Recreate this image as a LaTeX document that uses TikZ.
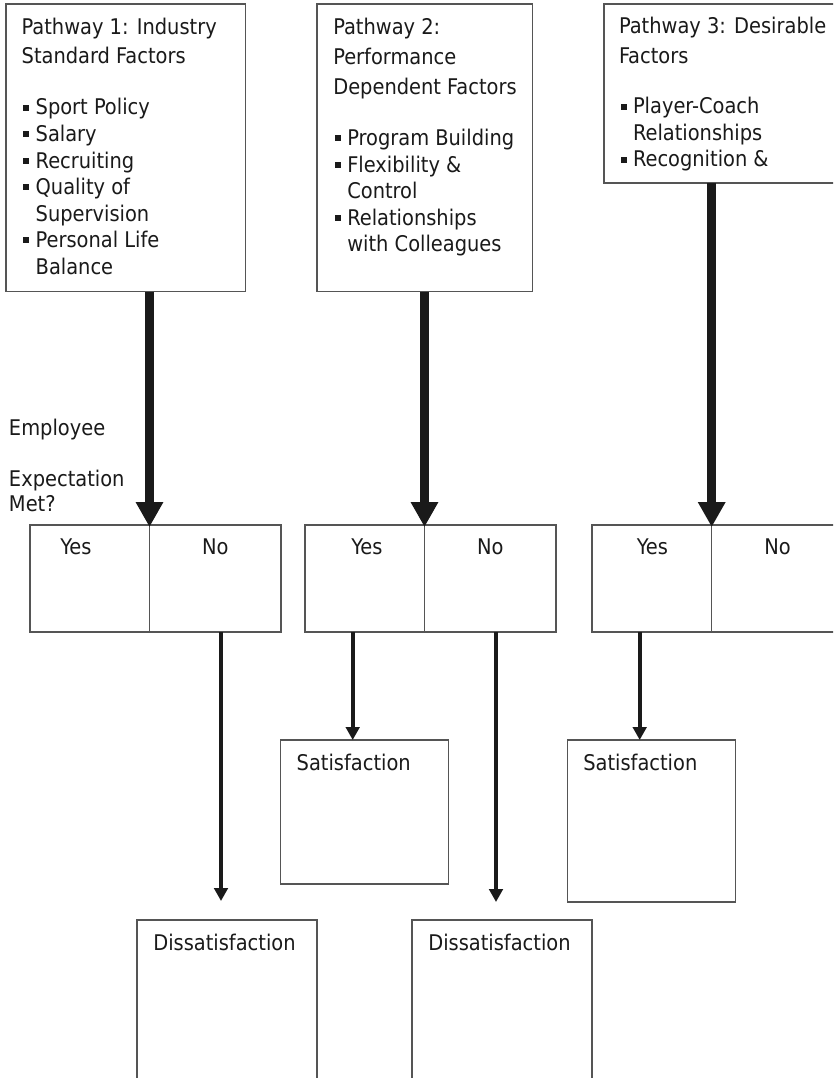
\documentclass[tikz,border=0pt]{standalone}
\usepackage{fontspec}
\setmainfont{DejaVu Sans Condensed}
\usetikzlibrary{arrows.meta}
\definecolor{bordc}{HTML}{555555}
\definecolor{inkc}{HTML}{1A1A1A}
\definecolor{arrc}{HTML}{1A1A1A}
\newcommand\sqbul{\makebox[14pt][l]{\hspace{1.5pt}\rule[4.3pt]{6pt}{6pt}}}
\begin{document}
\begin{tikzpicture}[x=1pt,y=-1pt,
  frame/.style={draw=bordc,line width=1.4pt,inner sep=0pt,outer sep=0pt,fill=white},
  txt/.style={anchor=base west,inner sep=0pt,outer sep=0pt,text=inkc,font=\fontsize{21.6}{25}\selectfont},
  ctxt/.style={anchor=base,inner sep=0pt,outer sep=0pt,text=inkc,font=\fontsize{21.6}{25}\selectfont},
  bigarr/.style={draw=arrc,line width=9pt,-{Triangle[width=26pt,length=25pt]}},
  smallarr/.style={draw=arrc,line width=4.3pt,-{Triangle[width=13.5pt,length=13pt]}}]
\useasboundingbox (0,0) rectangle (833,1078);
\clip (0,0) rectangle (833,1078);
\fill[white] (0,0) rectangle (833,1078);

% top boxes
\node[frame,minimum width=239.5pt,minimum height=287.5pt] (p1) at (125.75,147.75) {};
\node[frame,minimum width=215.3pt,minimum height=287.5pt] (p2) at (424.65,147.75) {};
\node[frame,minimum width=241pt,minimum height=179pt] (p3) at (724.5,93.5) {};

% box 1 text
\node[txt] (t1a) at (21.7,34.3) {Pathway 1: Industry};
\node[txt] (t1b) at (21.7,64) {Standard Factors};
\node[txt] (t1c) at (21.7,115) {\sqbul Sport Policy};
\node[txt] (t1d) at (21.7,141.5) {\sqbul Salary};
\node[txt] (t1e) at (21.7,168) {\sqbul Recruiting};
\node[txt] (t1f) at (21.7,194.5) {\sqbul Quality of};
\node[txt] (t1g) at (35.7,221) {Supervision};
\node[txt] (t1h) at (21.7,247.5) {\sqbul Personal Life};
\node[txt] (t1i) at (35.7,274) {Balance};

% box 2 text
\node[txt] (t2a) at (333.3,34.3) {Pathway 2:};
\node[txt] (t2b) at (333.3,64.3) {Performance};
\node[txt] (t2c) at (333.3,94.3) {Dependent Factors};
\node[txt] (t2d) at (333.3,145.7) {\sqbul Program Building};
\node[txt] (t2e) at (333.3,172.2) {\sqbul Flexibility \&};
\node[txt] (t2f) at (347.3,198.7) {Control};
\node[txt] (t2g) at (333.3,225.2) {\sqbul Relationships};
\node[txt] (t2h) at (347.3,251.7) {with Colleagues};

% box 3 text
\node[txt] (t3a) at (619,34) {Pathway 3: Desirable};
\node[txt] (t3b) at (619,64) {Factors};
\node[txt] (t3c) at (619,114) {\sqbul Player-Coach};
\node[txt] (t3d) at (633,140.5) {Relationships};
\node[txt] (t3e) at (619,167) {\sqbul Recognition \&};

% question label
\node[txt] (q1) at (9,435) {Employee};
\node[txt] (q2) at (9,486) {Expectation};
\node[txt] (q3) at (9,511.7) {Met?};

% yes/no boxes
\node[frame,minimum width=119.5pt,minimum height=107pt] (yes1) at (89.75,578.5) {};
\node[frame,minimum width=131.5pt,minimum height=107pt] (no1) at (215.25,578.5) {};
\node[frame,minimum width=119.5pt,minimum height=107pt] (yes2) at (364.75,578.5) {};
\node[frame,minimum width=131.5pt,minimum height=107pt] (no2) at (490.25,578.5) {};
\node[frame,minimum width=119.7pt,minimum height=107pt] (yes3) at (651.85,578.5) {};
\node[frame,minimum width=133.3pt,minimum height=107pt] (no3) at (778.35,578.5) {};

\node[ctxt] (y1t) at (76,554.3) {Yes};
\node[ctxt] (n1t) at (215.3,554.3) {No};
\node[ctxt] (y2t) at (367,554.3) {Yes};
\node[ctxt] (n2t) at (490.3,554.3) {No};
\node[ctxt] (y3t) at (652.5,554.3) {Yes};
\node[ctxt] (n3t) at (777.5,554.3) {No};

% outcome boxes
\node[frame,minimum width=168pt,minimum height=144pt] (s1) at (364.7,812) {};
\node[frame,minimum width=168pt,minimum height=162pt] (s2) at (651.7,821) {};
\node[frame,minimum width=180pt,minimum height=180pt] (d1) at (227,1010) {};
\node[frame,minimum width=180pt,minimum height=180pt] (d2) at (502,1010) {};

\node[txt] (s1t) at (296.7,770) {Satisfaction};
\node[txt] (s2t) at (583.3,770) {Satisfaction};
\node[txt] (d1t) at (153.3,950) {Dissatisfaction};
\node[txt] (d2t) at (428.3,950) {Dissatisfaction};

% thick arrows
\draw[bigarr] (p1.south -| yes1.east) -- ([yshift=-2pt]yes1.north east);
\draw[bigarr] (p2.south -| yes2.east) -- ([yshift=-2pt]yes2.north east);
\draw[bigarr] (p3.south -| yes3.east) -- ([yshift=-2pt]yes3.north east);

% thin arrows
\coordinate (a1) at (221,0);
\coordinate (a2) at (352.7,0);
\coordinate (a3) at (496,0);
\coordinate (a4) at (639.7,0);
\draw[smallarr,shorten >=19pt] (no1.south -| a1) -- (d1.north -| a1);
\draw[smallarr] (yes2.south -| a2) -- (s1.north -| a2);
\draw[smallarr,shorten >=18pt] (no2.south -| a3) -- (d2.north -| a3);
\draw[smallarr] (yes3.south -| a4) -- (s2.north -| a4);
\end{tikzpicture}
\end{document}
